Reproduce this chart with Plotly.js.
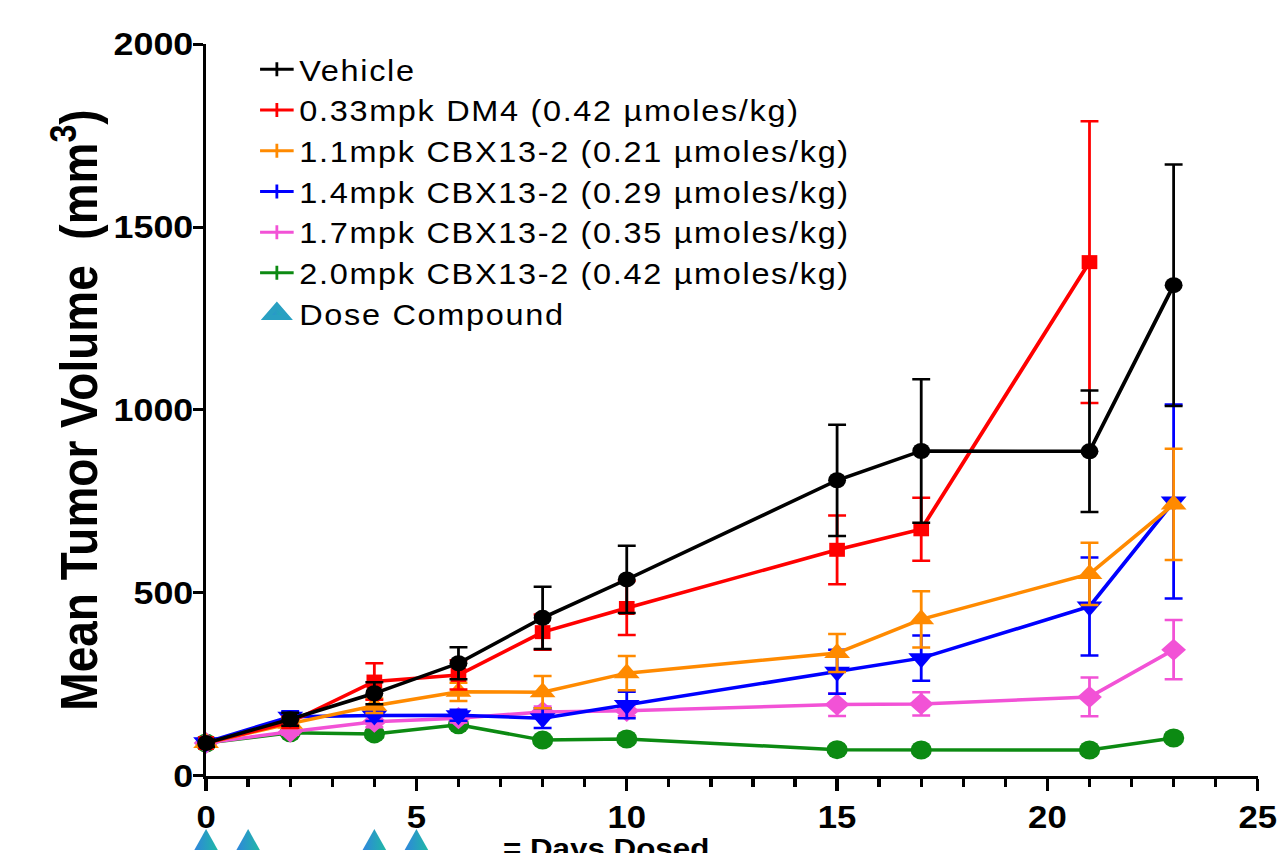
<!DOCTYPE html>
<html><head><meta charset="utf-8">
<script src="https://cdn.plot.ly/plotly-3.0.1.min.js"></script>
<style>
html,body{margin:0;padding:0;background:#fff;overflow:hidden;}
#chart{width:1141px;height:853px;transform:scaleX(1.12);transform-origin:0 0;}
text.legendtext{letter-spacing:1.5px;}
</style></head><body><div id="chart"></div>
<script>
// ---- data ----
const days = [0, 2, 4, 6, 8, 10, 15, 17, 21, 23];
const daysDM4 = [0, 2, 4, 6, 8, 10, 15, 17, 21];
const vehicle = [90, 155, 226, 308, 432, 537, 808, 888, 887, 1341];
const vehicleErr = [10, 18, 30, 44, 85, 92, 152, 196, 166, 330];
const dm4 = [90, 147, 258, 276, 393, 459, 618, 674, 1404];
const dm4Err = [10, 15, 50, 40, 48, 74, 94, 86, 385];
const cbx11 = [90, 143, 192, 230, 229, 281, 336, 428, 552, 742];
const cbx11Err = [10, 12, 20, 25, 44, 47, 52, 77, 85, 152];
const cbx14 = [92, 162, 165, 166, 158, 194, 285, 322, 463, 750];
const cbx14Err = [10, 15, 15, 15, 27, 36, 60, 62, 134, 265];
const cbx17 = [90, 121, 148, 158, 175, 178, 195, 197, 216, 345];
const cbx17Err = [8, 8, 15, 12, 15, 15, 31, 32, 53, 81];
const cbx20 = [90, 118, 115, 140, 98, 101, 72, 71, 71, 104];
const cbx20Err = [5, 8, 10, 10, 8, 8, 6, 6, 6, 8];
const doseDays = [0, 1, 4, 5];
const seriesNames = [
  'Vehicle',
  '0.33mpk DM4 (0.42 \u00b5moles/kg)',
  '1.1mpk CBX13-2 (0.21 \u00b5moles/kg)',
  '1.4mpk CBX13-2 (0.29 \u00b5moles/kg)',
  '1.7mpk CBX13-2 (0.35 \u00b5moles/kg)',
  '2.0mpk CBX13-2 (0.42 \u00b5moles/kg)'
];
const doseName = 'Dose Compound';
const doseLabel = '= Days Dosed';
const xTicks = [0, 5, 10, 15, 20, 25];
const yTicks = [0, 500, 1000, 1500, 2000];

// ---- styles ----
const FONT = 'Liberation Sans, Arial, Helvetica, sans-serif';
const colors = ['#000000', '#ff0000', '#ff8a00', '#0000ff', '#f252d6', '#0c8a12'];
const symbols = ['circle', 'square', 'triangle-up', 'triangle-down', 'diamond', 'circle'];
const sizes = [16, 14, 20, 20, 17, 19];
const Y_MAX = 2000;
const MAIN_BOTTOM = 0.0952;   // fraction of plot height used by the dose row
const DOSE_ROW = 0.31;        // vertical place of dose marks inside the dose row
const DOSE_BLUE = '#2f86dc', DOSE_TEAL = '#1fb8a6';

const seriesX = [days, daysDM4, days, days, days, days];
const seriesY = [vehicle, dm4, cbx11, cbx14, cbx17, cbx20];
const seriesE = [vehicleErr, dm4Err, cbx11Err, cbx14Err, cbx17Err, cbx20Err];

const traces = [];
// draw order: green, pink, blue, orange, red, black
[5, 4, 3, 2, 1, 0].forEach(i => {
  traces.push({
    type: 'scatter', mode: 'lines+markers', x: seriesX[i], y: seriesY[i],
    name: seriesNames[i], showlegend: false, cliponaxis: false,
    line: {color: colors[i], width: 3.5},
    marker: {symbol: symbols[i], size: sizes[i], color: colors[i]},
    error_y: {type: 'data', array: seriesE[i], visible: true, color: colors[i], thickness: 2.5, width: 8}
  });
});
// dose markers (on their own row below the x axis)
traces.push({
  type: 'scatter', mode: 'markers', x: doseDays, y: doseDays.map(() => DOSE_ROW),
  xaxis: 'x', yaxis: 'y2', showlegend: false, cliponaxis: false, name: doseName,
  marker: {symbol: 'arrow-up', size: 21, color: DOSE_BLUE, gradient: {type: 'horizontal', color: DOSE_TEAL}, line: {width: 0}}
});
// legend entries
seriesNames.forEach((n, i) => {
  traces.push({
    type: 'scatter', mode: 'lines+markers', x: [null], y: [null], name: n, showlegend: true,
    line: {color: colors[i], width: 3},
    marker: {symbol: 'line-ns-open', size: 10, color: colors[i], line: {width: 2.5, color: colors[i]}}
  });
});
traces.push({
  type: 'scatter', mode: 'markers', x: [null], y: [null], name: doseName, showlegend: true,
  marker: {symbol: 'triangle-up', size: 30, color: DOSE_BLUE, gradient: {type: 'horizontal', color: DOSE_TEAL}, line: {width: 5, color: '#29a0c2'}}
});

const layout = {
  width: 1141, height: 853,
  margin: {l: 184, r: 18, t: 44, b: 0},
  paper_bgcolor: '#fff', plot_bgcolor: 'rgba(0,0,0,0)',
  showlegend: true,
  legend: {x: 0.046, y: 1.0, xanchor: 'left', yanchor: 'top', bgcolor: 'rgba(0,0,0,0)',
    font: {family: FONT, size: 29, color: '#000'}, itemwidth: 30, traceorder: 'normal'},
  xaxis: {
    anchor: 'y', range: [0, 25], tickvals: xTicks, ticktext: xTicks.map(String),
    showgrid: false, zeroline: false, showline: true, linecolor: '#000', linewidth: 3,
    ticks: 'outside', ticklen: 12, tickwidth: 3, tickcolor: '#000', ticklabeloverflow: 'allow',
    minor: {dtick: 1, ticks: 'outside', ticklen: 8, tickwidth: 3, tickcolor: '#000', showgrid: false},
    tickfont: {family: FONT, size: 31, color: '#000', weight: 'bold'}
  },
  yaxis: {
    domain: [MAIN_BOTTOM, 1], anchor: 'x',
    range: [0, Y_MAX], tickvals: yTicks, ticktext: yTicks.map(String),
    showgrid: false, zeroline: false, showline: true, linecolor: '#000', linewidth: 3,
    ticks: 'outside', ticklen: 9, tickwidth: 3, tickcolor: '#000', ticklabelstandoff: -7,
    tickfont: {family: FONT, size: 32, color: '#000', weight: 'bold'},
    title: {text: 'Mean Tumor Volume\u00a0 (mm<sup>3</sup>)', font: {family: FONT, size: 46, color: '#000', weight: 'bold'}, standoff: 0}
  },
  yaxis2: {domain: [0, MAIN_BOTTOM], anchor: 'x', range: [0, 1], visible: false, fixedrange: true},
  annotations: [{
    xref: 'paper', yref: 'paper', x: 0.28, y: 0.027, xanchor: 'left', yanchor: 'top',
    text: doseLabel, showarrow: false,
    font: {family: FONT, size: 28, color: '#000', weight: 'bold'}
  }]
};
Plotly.newPlot('chart', traces, layout, {staticPlot: true, displayModeBar: false});
</script></body></html>
